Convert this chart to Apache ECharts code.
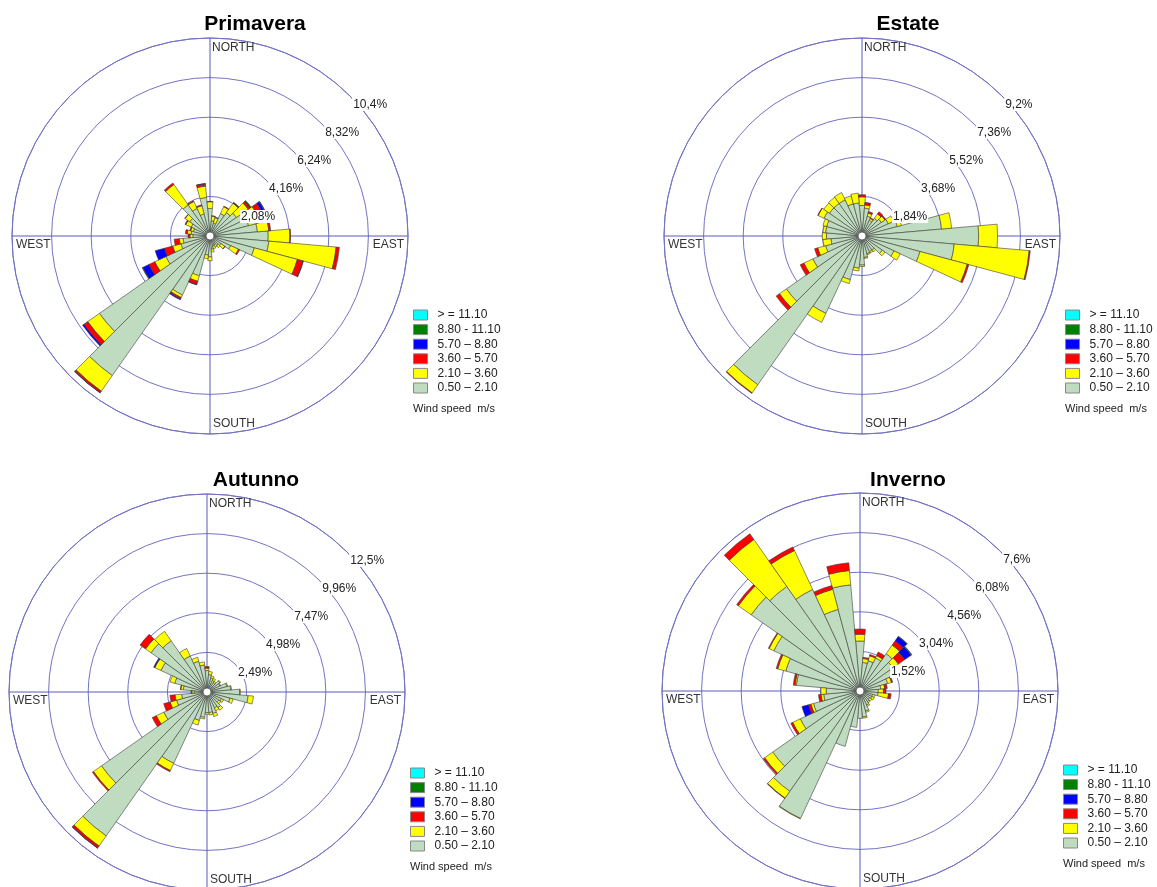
<!DOCTYPE html>
<html>
<head>
<meta charset="utf-8">
<script src="https://cdn.jsdelivr.net/npm/echarts@6/dist/echarts.min.js"></script>
<style>
  html, body { margin: 0; padding: 0; background: #fff; }
  #chart { width: 1157px; height: 887px; }
</style>
</head>
<body>
<div id="chart"></div>
<script>
// direction sectors, degrees clockwise from north
const directions = ['0','10','20','30','40','50','60','70','80','90','100','110','120','130','140','150','160','170',
  '180','190','200','210','220','230','240','250','260','270','280','290','300','310','320','330','340','350']

// speed classes (m/s), inner to outer
const speedClasses = ['0.50 – 2.10', '2.10 – 3.60', '3.60 – 5.70', '5.70 – 8.80', '8.80 - 11.10', '> = 11.10']
const speedColors = ['#c0dcc0', '#ffff00', '#ff0000', '#0000ff', '#008000', '#00ffff']

// frequency (%) per direction, one array per speed class
const primavera1 = [1.45,0.8,0.7,1.3,1.5,1.7,2.0,2.1,2.5,3.06,3.1,2.41,1.2,0.7,0.6,0.5,0.55,0.7,1.1,1.0,2.16,3.42,8.95,7.09,2.56,1.58,1.42,0.9,1.0,0.9,1.1,1.3,2.0,1.6,1.2,2.03]
const primavera2 = [0.35,0.25,0.3,0.4,0.6,0.75,0.7,0.8,0.6,1.14,3.55,2.34,0.45,0.25,0.15,0.15,0.15,0.15,0.2,0.2,0.3,0.15,1.0,0.75,0.64,0.45,0.2,0.15,0.2,0.15,0.3,0.3,1.3,0.4,0.45,0.6]
const primavera3 = [0.02,0.02,0.03,0.03,0.03,0.12,0.3,0.2,0.1,0.03,0.17,0.31,0.07,0.02,0,0,0,0,0,0,0.18,0.08,0.1,0.25,0.34,0.45,0.27,0.1,0.1,0.05,0.05,0.02,0.1,0.05,0.05,0.12]
const primavera4 = [0,0,0,0,0,0.02,0.15,0.02,0,0,0,0.02,0,0,0,0,0,0,0,0,0.02,0.05,0.02,0.08,0.36,0.5,0,0,0,0,0,0,0,0,0,0.02]
const primavera5 = [0,0,0,0,0.03,0.05,0.03,0,0,0,0,0,0,0,0,0,0,0,0,0,0,0,0,0,0.03,0,0,0,0,0,0,0,0,0,0,0]
const primavera6 = [0,0,0,0,0,0,0,0,0,0,0,0,0,0,0,0,0,0,0,0,0,0,0,0,0,0,0,0,0,0,0,0,0,0,0,0]

const estate1 = [1.42,1.3,0.95,0.8,1.0,1.1,1.35,1.7,3.71,5.42,4.3,2.79,1.64,1.15,0.8,0.8,0.85,1.0,1.35,1.5,2.1,3.97,8.44,4.29,2.52,1.75,1.45,1.65,1.7,1.7,1.95,1.85,1.85,1.85,1.55,1.54]
const estate2 = [0.4,0.15,0.15,0.1,0.25,0.2,0.28,0.2,0.47,0.88,3.5,2.27,0.32,0.15,0.1,0.07,0.05,0.05,0.07,0.13,0.19,0.46,0.46,0.39,0.46,0.38,0.37,0.2,0.12,0.18,0.3,0.32,0.35,0.38,0.38,0.46]
const estate3 = [0.1,0.12,0.08,0.03,0.12,0.05,0,0,0,0,0.05,0.08,0,0,0,0,0,0,0,0,0,0,0.03,0.19,0.19,0.15,0,0,0,0,0.02,0,0,0,0,0]
const estate4 = [0,0,0,0,0,0,0,0,0,0,0,0,0,0,0,0,0,0,0,0,0,0,0,0,0,0,0,0,0,0,0,0,0,0,0,0]
const estate5 = [0,0,0,0,0,0,0,0,0,0,0,0,0,0,0,0,0,0,0,0,0,0,0,0,0,0,0,0,0,0,0,0,0,0,0,0]
const estate6 = [0,0,0,0,0,0,0,0,0,0,0,0,0,0,0,0,0,0,0,0,0,0,0,0,0,0,0,0,0,0,0,0,0,0,0,0]

const autunno1 = [1.35,1.1,0.9,0.8,0.7,1.0,0.9,1.3,1.5,2.05,2.6,1.5,1.0,0.9,1.2,1.1,1.4,1.3,1.3,1.6,1.85,4.95,11.05,8.1,3.0,1.98,1.6,0.8,1.5,2.1,3.2,4.3,3.93,2.5,2.0,1.7]
const autunno2 = [0.15,0.2,0.15,0.15,0.1,0.05,0.05,0.05,0.05,0.05,0.33,0.2,0.15,0.15,0.2,0.2,0.2,0.15,0.1,0.1,0.3,0.5,0.78,0.62,0.52,0.42,0.42,0.15,0.15,0.3,0.42,0.42,0.73,0.52,0.26,0.2]
const autunno3 = [0.1,0,0,0,0,0,0,0,0,0,0,0,0,0,0,0,0,0,0,0,0,0.08,0.15,0.08,0.28,0.42,0.32,0.05,0.03,0,0.03,0.42,0,0,0,0]
const autunno4 = [0,0,0,0,0,0,0,0,0,0,0,0,0,0,0,0,0,0,0,0,0,0,0.02,0,0,0,0,0,0,0,0.05,0,0,0,0,0]
const autunno5 = [0,0,0,0,0,0,0,0,0,0,0,0,0,0,0,0,0,0,0,0,0,0,0,0,0,0,0,0,0,0,0,0,0,0,0,0]
const autunno6 = [0,0,0,0,0,0,0,0,0,0,0,0,0,0,0,0,0,0,0,0,0,0,0,0,0,0,0,0,0,0,0,0,0,0,0,0]

const inverno1 = [1.92,1.1,1.2,1.4,1.75,1.55,1.4,1.1,0.8,0.7,0.7,0.5,0.5,0.45,0.5,0.6,0.8,1.0,1.05,1.4,2.2,5.4,4.7,4.09,2.53,1.85,1.4,1.3,2.45,2.95,3.65,5.1,4.9,4.3,3.24,4.09]
const inverno2 = [0.26,0.15,0.2,0.1,0.4,0.25,0.2,0.15,0.15,0.2,0.4,0.1,0.1,0.1,0.05,0.05,0.05,0.05,0,0,0,0.02,0.32,0.38,0.32,0.1,0.1,0.2,0.05,0.32,0.2,0.6,2.2,1.65,0.8,0.55]
const inverno3 = [0.2,0.05,0.05,0.15,0.2,0.3,0,0.05,0.1,0.1,0.1,0,0,0,0,0,0,0,0,0,0,0,0.02,0.06,0.08,0.1,0.1,0,0.07,0.06,0.03,0.08,0.27,0.15,0.15,0.3]
const inverno4 = [0,0,0,0,0.2,0.3,0,0,0,0,0,0,0,0,0,0,0,0,0,0,0,0,0,0,0,0.26,0,0,0,0,0,0,0,0,0,0]
const inverno5 = [0,0,0,0,0.02,0.03,0,0,0,0,0,0,0,0,0,0,0,0,0,0,0,0,0,0,0,0,0,0,0,0,0,0,0,0,0,0]
const inverno6 = [0,0,0,0,0,0,0,0,0,0,0,0,0,0,0,0,0,0,0,0,0,0,0,0,0,0,0,0,0,0,0,0,0,0,0,0]

// ring labels and outer ring value per rose
const primaveraTicks = ['2,08%', '4,16%', '6,24%', '8,32%', '10,4%']
const estateTicks = ['1,84%', '3,68%', '5,52%', '7,36%', '9,2%']
const autunnoTicks = ['2,49%', '4,98%', '7,47%', '9,96%', '12,5%']
const invernoTicks = ['1,52%', '3,04%', '4,56%', '6,08%', '7,6%']
const ringMax = [10.4, 9.2, 12.45, 7.6]

const titles = ['Primavera', 'Estate', 'Autunno', 'Inverno']
const roseData = [
  [primavera1, primavera2, primavera3, primavera4, primavera5, primavera6],
  [estate1, estate2, estate3, estate4, estate5, estate6],
  [autunno1, autunno2, autunno3, autunno4, autunno5, autunno6],
  [inverno1, inverno2, inverno3, inverno4, inverno5, inverno6]
]
const roseTicks = [primaveraTicks, estateTicks, autunnoTicks, invernoTicks]

// layout (px)
const R = 198
const centers = [[210, 236], [862, 236], [207, 692], [860, 691]]
const titlePos = [[255, 24], [908, 24], [256, 480], [908, 480]]
const legendPos = [[413, 309], [1065, 309], [410, 767], [1063, 764]]

const font = '"Liberation Sans", Arial, sans-serif'
const ringColor = '#7373c6'
const crossColor = '#5a5ab8'

const polar = []
const angleAxis = []
const radiusAxis = []
const series = []
const legend = []
const graphic = []

centers.forEach(([cx, cy], k) => {
  const max = ringMax[k]
  const interval = max / 5
  const ticks = roseTicks[k]

  // data polar
  polar.push({ center: [cx, cy], radius: R })
  angleAxis.push({
    polarIndex: 3 * k, type: 'category', data: directions, startAngle: 95, clockwise: true,
    axisLine: { show: false }, axisTick: { show: false }, axisLabel: { show: false }, splitLine: { show: false }
  })
  radiusAxis.push({
    polarIndex: 3 * k, type: 'value', min: 0, max: max,
    axisLine: { show: false }, axisTick: { show: false }, axisLabel: { show: false }, splitLine: { show: false }
  })

  // rings + cross
  polar.push({ center: [cx, cy], radius: R })
  angleAxis.push({
    polarIndex: 3 * k + 1, type: 'category', data: ['N', 'E', 'S', 'W'], startAngle: 90, z: 0,
    axisLine: { show: true, lineStyle: { color: ringColor, width: 1 } },
    axisTick: { show: false }, axisLabel: { show: false },
    splitLine: { show: true, lineStyle: { color: crossColor, width: 1 } }
  })
  radiusAxis.push({
    polarIndex: 3 * k + 1, type: 'value', min: 0, max: max, interval: interval, z: 0,
    axisLine: { show: false }, axisTick: { show: false }, axisLabel: { show: false },
    splitLine: { show: true, lineStyle: { color: ringColor, width: 1 } }
  })

  // percentage labels along the 45 degree line
  polar.push({ center: [cx, cy], radius: R })
  angleAxis.push({
    polarIndex: 3 * k + 2, type: 'category', data: [''], startAngle: 45,
    axisLine: { show: false }, axisTick: { show: false }, axisLabel: { show: false }, splitLine: { show: false }
  })
  radiusAxis.push({
    polarIndex: 3 * k + 2, type: 'value', min: 0, max: max, interval: interval, z: 20,
    axisLine: { show: false }, axisTick: { show: false }, splitLine: { show: false },
    axisLabel: {
      show: true, showMinLabel: false, margin: -3, align: 'left', verticalAlign: 'top',
      fontSize: 12, fontFamily: font, color: '#222', backgroundColor: '#fff', padding: [1, 1, 0, 1],
      formatter: v => ticks[Math.round(v / interval) - 1] || ''
    }
  })

  roseData[k].forEach((values, j) => {
    series.push({
      type: 'bar', coordinateSystem: 'polar', polarIndex: 3 * k,
      name: speedClasses[j], stack: 'rose' + k,
      barCategoryGap: '0%',
      data: values.map(v => (v > 0 ? v : null)),
      itemStyle: { color: speedColors[j], borderColor: '#3c3c3c', borderWidth: 0.6 },
      emphasis: { disabled: true },
      z: 2
    })
  })

  legend.push({
    data: speedClasses.slice().reverse(),
    orient: 'vertical', left: legendPos[k][0], top: legendPos[k][1],
    padding: 0, itemWidth: 14, itemHeight: 10, itemGap: 2.6, icon: 'rect',
    selectedMode: false,
    itemStyle: { borderColor: '#888', borderWidth: 1 },
    textStyle: { fontSize: 12, fontFamily: font, color: '#222', lineHeight: 12, padding: [0, 0, 0, 5] }
  })

  graphic.push(
    { type: 'text', x: titlePos[k][0], y: titlePos[k][1], z: 50,
      style: { text: titles[k], font: 'bold 21px ' + font, fill: '#000', textAlign: 'center', textVerticalAlign: 'middle' } },
    { type: 'text', x: cx + 2, y: cy - R + 10, z: 50,
      style: { text: 'NORTH', font: '12px ' + font, fill: '#333', textAlign: 'left', textVerticalAlign: 'middle' } },
    { type: 'text', x: cx + 3, y: cy + R - 10, z: 50,
      style: { text: 'SOUTH', font: '12px ' + font, fill: '#333', textAlign: 'left', textVerticalAlign: 'middle' } },
    { type: 'text', x: cx - R + 4, y: cy + 9, z: 50,
      style: { text: 'WEST', font: '12px ' + font, fill: '#333', textAlign: 'left', textVerticalAlign: 'middle' } },
    { type: 'text', x: cx + R - 4, y: cy + 9, z: 50,
      style: { text: 'EAST', font: '12px ' + font, fill: '#333', textAlign: 'right', textVerticalAlign: 'middle' } },
    { type: 'text', x: legendPos[k][0], y: legendPos[k][1] + 100, z: 50,
      style: { text: 'Wind speed  m/s', font: '11px ' + font, fill: '#222', textAlign: 'left', textVerticalAlign: 'middle' } },
    { type: 'circle', shape: { cx: cx, cy: cy, r: 4 }, z: 60,
      style: { fill: '#fff', stroke: '#555', lineWidth: 0.8 } }
  )
})

const chart = echarts.init(document.getElementById('chart'), null, { renderer: 'canvas' })
chart.setOption({
  backgroundColor: '#fff',
  animation: false,
  polar, angleAxis, radiusAxis, series, legend, graphic
})
</script>
</body>
</html>
